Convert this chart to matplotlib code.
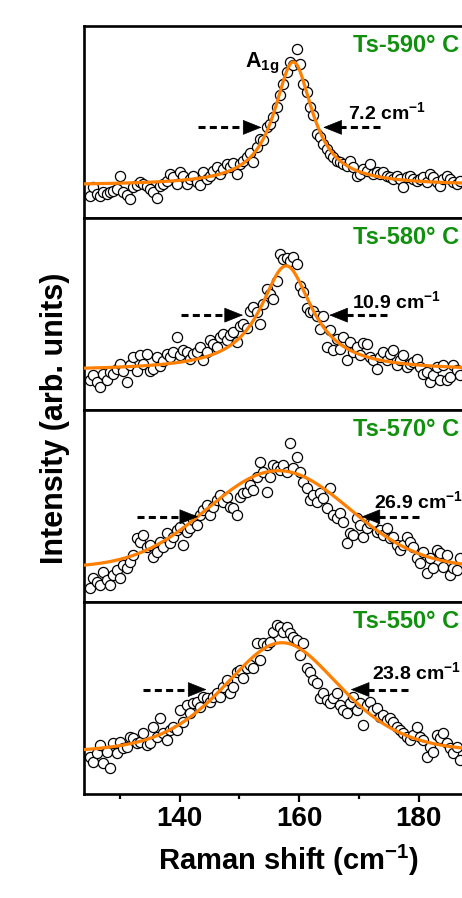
import numpy as np
import matplotlib
matplotlib.use('Agg')
import matplotlib.pyplot as plt

plt.rcParams['font.family'] = ['Liberation Sans', 'DejaVu Sans']
plt.rcParams['font.weight'] = 'bold'
plt.rcParams['mathtext.fontset'] = 'custom'
plt.rcParams['mathtext.rm'] = 'Liberation Sans:bold'
plt.rcParams['mathtext.it'] = 'Liberation Sans:bold'
plt.rcParams['mathtext.bf'] = 'Liberation Sans:bold'

# panel labels (top to bottom) and FWHM values
temps = ['Ts-590° C', 'Ts-580° C', 'Ts-570° C', 'Ts-550° C']
fwhm_text = ['7.2', '10.9', '26.9', '23.8']

# measured spectra, normalised intensity (arb. units), 112 points from 125 to 186.9 cm-1
x_first, x_last = 125.0, 186.9
y_590 = [11.5, 15.9, 12.7, 11.5, 13.8, 12.4, 13.3, 14.1, 15.0, 22.0,
         13.3, 12.0, 9.8, 15.9, 17.3, 18.5, 17.6, 16.6, 15.0, 13.8,
         10.3, 16.8, 17.6, 19.4, 22.9, 21.1, 17.6, 23.7, 22.0, 17.6,
         20.2, 22.0, 18.5, 17.3, 23.7, 20.2, 22.0, 24.6, 26.4, 22.9,
         25.5, 28.1, 26.7, 28.4, 22.9, 28.1, 29.8, 31.6, 33.7, 29.0,
         36.8, 41.2, 40.7, 47.3, 49.0, 52.5, 57.8, 63.9, 70.0, 76.1,
         81.3, 79.6, 87.8, 80.1, 70.0, 65.6, 57.8, 53.4, 43.8, 42.1,
         38.6, 36.0, 33.3, 31.6, 29.8, 29.0, 28.1, 27.2, 29.5, 26.4,
         22.0, 22.9, 25.5, 24.6, 28.1, 22.9, 23.7, 22.9, 23.7, 22.0,
         21.1, 20.2, 22.0, 20.2, 15.9, 21.1, 22.0, 20.2, 19.4, 20.2,
         21.1, 18.5, 22.9, 21.1, 18.5, 16.8, 20.2, 22.0, 20.2, 18.5,
         17.6, 19.4]
y_580 = [15.5, 18.1, 14.7, 12.1, 19.0, 15.5, 19.9, 19.0, 21.6, 24.2,
         20.4, 14.7, 23.3, 27.6, 20.4, 28.5, 24.2, 29.0, 20.4, 21.6,
         27.6, 22.8, 25.6, 29.4, 27.6, 30.2, 38.0, 28.5, 31.4, 30.2,
         26.8, 29.0, 30.2, 32.8, 25.9, 30.2, 36.3, 34.2, 32.8, 38.0,
         39.7, 36.3, 38.9, 40.6, 35.4, 44.0, 44.6, 42.8, 51.8, 53.5,
         50.9, 44.9, 55.3, 63.0, 60.4, 57.9, 67.4, 81.2, 78.6, 79.4,
         77.7, 79.8, 76.3, 64.8, 61.3, 53.2, 50.9, 51.8, 49.2, 42.3,
         49.2, 32.8, 41.5, 31.1, 37.1, 32.0, 38.0, 25.9, 35.4, 30.2,
         32.8, 28.5, 34.9, 34.5, 27.6, 25.9, 21.6, 27.6, 30.2, 25.9,
         29.4, 31.1, 23.3, 25.9, 28.5, 22.5, 24.2, 25.0, 26.8, 22.5,
         19.0, 19.9, 14.7, 18.1, 22.5, 15.5, 23.3, 15.5, 17.3, 23.3,
         20.7, 18.1]
y_570 = [7.1, 12.3, 10.6, 8.9, 15.8, 11.5, 8.9, 14.1, 16.7, 12.3,
         19.3, 17.5, 21.0, 24.5, 33.2, 31.4, 34.9, 28.8, 29.7, 23.6,
         26.2, 31.4, 28.8, 35.8, 30.6, 34.0, 37.5, 39.2, 29.7, 36.6,
         38.4, 42.7, 40.1, 45.3, 47.9, 50.5, 45.3, 49.7, 53.1, 55.7,
         52.3, 54.9, 49.7, 48.8, 45.3, 54.9, 56.6, 57.5, 60.9, 58.3,
         65.3, 73.1, 67.9, 57.5, 65.3, 71.4, 70.5, 68.8, 71.4, 67.9,
         82.6, 69.6, 75.7, 67.9, 62.7, 59.2, 53.1, 55.7, 52.3, 56.6,
         54.0, 48.8, 59.2, 45.3, 43.6, 46.2, 41.8, 30.6, 35.8, 34.9,
         43.6, 40.1, 34.0, 38.4, 41.0, 41.8, 36.6, 37.5, 34.9, 38.4,
         33.2, 34.0, 29.7, 27.1, 29.7, 34.0, 31.4, 28.8, 22.7, 20.1,
         26.2, 14.9, 22.7, 17.5, 27.1, 25.3, 18.4, 24.5, 14.1, 17.5,
         16.7, 22.7]
y_550 = [19.4, 16.8, 21.2, 25.5, 16.0, 22.0, 13.4, 26.4, 21.2, 27.3,
         23.8, 24.7, 29.9, 29.0, 26.4, 27.3, 31.6, 25.5, 26.4, 35.1,
         29.9, 39.4, 31.6, 28.1, 33.3, 35.1, 33.3, 43.8, 37.7, 46.4,
         42.0, 47.2, 48.1, 45.5, 50.7, 49.8, 48.1, 50.7, 52.4, 50.7,
         55.9, 59.4, 52.4, 55.9, 63.7, 64.6, 60.2, 65.5, 67.2, 65.5,
         78.5, 69.8, 78.5, 77.6, 79.3, 84.5, 88.0, 87.2, 84.5, 87.2,
         83.7, 81.9, 80.2, 72.4, 78.5, 65.5, 63.7, 59.4, 57.6, 49.8,
         52.4, 49.0, 47.2, 49.8, 52.4, 46.4, 43.8, 42.0, 47.2, 50.7,
         43.8, 47.2, 35.9, 46.4, 48.1, 43.8, 44.6, 40.3, 41.1, 38.5,
         39.4, 37.7, 35.1, 33.3, 31.6, 29.9, 28.1, 30.7, 35.1, 29.9,
         28.1, 19.4, 24.7, 22.0, 30.7, 29.0, 31.6, 26.4, 23.8, 21.2,
         24.7, 17.7]
spectra = [y_590, y_580, y_570, y_550]

# peak fit parameters (pseudo-Voigt): centre, FWHM, height, baseline, Lorentzian fraction
fit_center = [159.0, 157.8, 156.5, 157.1]
fit_width = [7.8, 10.5, 28.0, 23.8]
fit_height = [64.3, 54.6, 50.4, 59.2]
fit_base = [17.0, 20.5, 18.0, 19.6]
fit_eta = [1.0, 1.0, 0.0, 0.5]

# FWHM arrows: (left tail, left tip, right tip, right tail, y) and label anchor
arrows = [(143.1, 153.7, 164.0, 173.5, 47.2),
          (140.2, 150.6, 165.0, 174.6, 49.4),
          (132.8, 143.1, 170.4, 180.1, 44.4),
          (133.8, 144.5, 168.6, 178.2, 54.4)]
label_pos = [(168.2, 51.5), (168.8, 53.0), (172.5, 49.0), (172.2, 59.6)]


def pseudo_voigt(x, c, w, h, b, eta):
    lor = 1.0 / (1.0 + ((x - c) / (w / 2.0)) ** 2)
    gau = np.exp(-4.0 * np.log(2.0) * ((x - c) / w) ** 2)
    return b + h * (eta * lor + (1.0 - eta) * gau)


fig = plt.figure(figsize=(4.62, 8.98), dpi=100)
left = 84 / 462
x_min, x_max = 124.0, 189.0
width = (x_max - x_min) * 5.98 / 462
top_px, panel_px = 26, 192
green = '#10900e'
orange = '#ff7f00'
head_len = 2.8   # arrow head length in cm-1
x_fit = np.linspace(x_min, x_max, 800)

for i, y in enumerate(spectra):
    bottom = 1 - (top_px + (i + 1) * panel_px) / 898
    ax = fig.add_axes([left, bottom, width, panel_px / 898])
    x = np.linspace(x_first, x_last, len(y))
    ax.plot(x, y, 'o', mfc='white', mec='black', ms=7.3, mew=0.9, zorder=2)
    ax.plot(x_fit, pseudo_voigt(x_fit, fit_center[i], fit_width[i], fit_height[i],
                                fit_base[i], fit_eta[i]),
            color=orange, lw=2.3, zorder=3)
    ax.set_xlim(x_min, x_max)
    ax.set_ylim(0, 100)
    for s in ax.spines.values():
        s.set_linewidth(1.9)
    ax.tick_params(left=False, labelleft=False, right=False)

    # FWHM arrows: dashed shaft + solid filled head
    lt, ltip, rt_tip, rt, ya = arrows[i]
    for tail, tip in [(lt, ltip), (rt, rt_tip)]:
        d = 1 if tip > tail else -1
        base = tip - d * head_len
        ax.plot([tail, base], [ya, ya], color='black', lw=2.2,
                ls=(0, (2.3, 1.4)), solid_capstyle='butt', dash_capstyle='butt',
                zorder=4)
        ax.annotate('', xy=(tip, ya), xytext=(base, ya),
                    arrowprops=dict(arrowstyle='-|>,head_length=1.0,head_width=0.4',
                                    lw=0.5, color='black', mutation_scale=12.5,
                                    shrinkA=0, shrinkB=0), zorder=4)
    ax.text(label_pos[i][0], label_pos[i][1], fwhm_text[i] + r' cm$^{-1}$',
            fontsize=14, fontweight='bold', ha='left', va='baseline')
    ax.text(186.8, 90, temps[i], color=green, fontsize=17, fontweight='bold',
            ha='right', va='center')

    if i == 0:
        ax.text(151.0, 78.5, r'A$_{\mathregular{1g}}$', fontsize=15.5,
                fontweight='bold', ha='left', va='baseline')

    if i < len(spectra) - 1:
        ax.tick_params(bottom=False, labelbottom=False)
    else:
        ax.set_xticks([140, 160, 180])
        ax.set_xticks([130, 150, 170], minor=True)
        ax.tick_params(axis='x', which='major', direction='out', length=6,
                       width=1.6, labelsize=20, pad=3)
        ax.tick_params(axis='x', which='minor', direction='out', length=3.5,
                       width=1.6)
        for lab in ax.get_xticklabels():
            lab.set_fontweight('bold')

fig.text(289 / 462, 1 - 870 / 898, r'Raman shift (cm$^{-1}$)', fontsize=21,
         fontweight='bold', ha='center', va='baseline')
fig.text(55 / 462, 1 - 418 / 898, 'Intensity (arb. units)', fontsize=22,
         fontweight='bold', rotation=90, ha='center', va='center')

fig.savefig('out.png', dpi=100)
